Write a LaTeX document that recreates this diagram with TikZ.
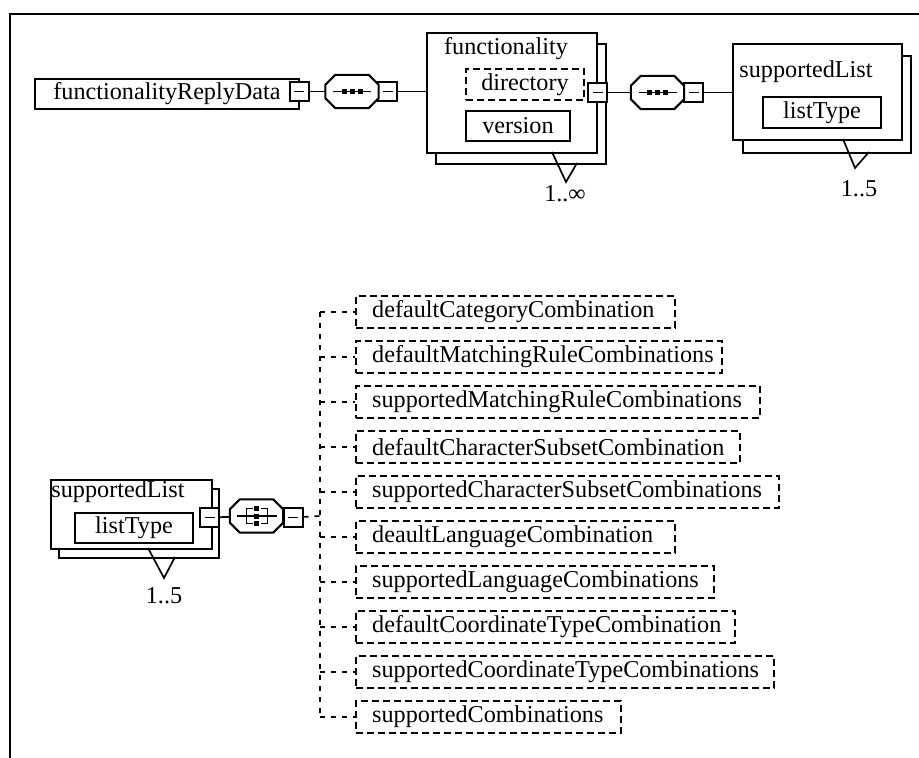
\documentclass[tikz,border=0pt]{standalone}
\usepackage{fontspec}
\setmainfont{Liberation Serif}
\newcommand\mrule{\rule{10pt}{1.8pt}}

\begin{document}
\begin{tikzpicture}[x=1pt,y=-1pt,
  every node/.style={font=\fontsize{24.2}{29}\selectfont},
  elbox/.style={draw,line width=2,fill=white,inner sep=0,anchor=north west},
  optbox/.style={elbox,dash pattern=on 7pt off 4pt},
  minusbox/.style={draw,line width=2,fill=white,inner sep=0,minimum size=19},
  grp/.style={minimum width=53,minimum height=33,inner sep=0},
  conn/.style={line width=1.7},
  dconn/.style={line width=1.7,dash pattern=on 5pt off 6pt}]
  \useasboundingbox (0,0) rectangle (919,758);
  \draw[line width=2.2] (10,758) -- (10,14) -- (919,14);

  \node[elbox,minimum width=264,minimum height=30] (frd) at (34,78) {functionalityReplyData};
  \node[minusbox] (frdm) at (299,91.5) {\mrule};
  \node[grp] (seqa) at (352,91.5) {};
  \node[minusbox] (seqam) at (387.5,91.5) {\mrule};

  \node[elbox,minimum width=170,minimum height=120] (funcs) at (435,43) {};
  \node[elbox,minimum width=170,minimum height=120] (func) at (426,32) {};
  \node (funcl) at (506,49) {functionality};
  \node[optbox,anchor=center,minimum width=118,minimum height=31] (dir) at (525,84.5) {directory};
  \node[elbox,anchor=center,minimum width=104,minimum height=30] (ver) at (518,126) {version};
  \node[minusbox] (funcm) at (597.5,92.5) {\mrule};
  \node[grp] (seqb) at (657.5,92.5) {};
  \node[minusbox] (seqbm) at (693.5,92.5) {\mrule};
  \draw[conn] (552,152) -- (566,182) -- (577,163);
  \node (funcn) at (565,194) {1..∞};

  \node[elbox,minimum width=168,minimum height=97] (sls) at (742,55) {};
  \node[elbox,minimum width=169,minimum height=96] (sl) at (732,43) {};
  \node (sll) at (806,72) {supportedList};
  \node[elbox,anchor=center,minimum width=118,minimum height=31] (slt) at (822,112.5) {listType};
  \draw[conn] (843,139) -- (855,168) -- (869,152);
  \node (sln) at (859,189) {1..5};

  \node[elbox,minimum width=160,minimum height=69] (bls) at (58,488) {};
  \node[elbox,minimum width=161,minimum height=69] (bl) at (50,479) {};
  \node (bll) at (118,492) {supportedList};
  \node[elbox,anchor=center,minimum width=118,minimum height=30] (blt) at (134,528) {listType};
  \node[minusbox] (blm) at (209.5,517.5) {\mrule};
  \draw[conn] (148,548) -- (164,578) -- (175,557);
  \node (bln) at (164,596) {1..5};
  \node[grp] (cho) at (256.5,516) {};
  \node[minusbox] (chom) at (293,517.5) {\mrule};

  \foreach \g in {seqa,seqb,cho}
    \draw[line width=2,fill=white] ([xshift=10]\g.north west) -- ([xshift=-10]\g.north east)
      -- ([yshift=-10]\g.north east) -- ([yshift=10]\g.south east) -- ([xshift=-10]\g.south east)
      -- ([xshift=10]\g.south west) -- ([yshift=10]\g.south west) -- ([yshift=-10]\g.north west) -- cycle;

  \draw[conn] (frdm) -- (seqa);
  \draw[conn] (seqam.east) -- (seqam.east -| func.west);
  \draw[conn] (funcm) -- (seqb);
  \draw[conn] (seqbm.east) -- (seqbm.east -| sl.west);
  \draw[conn] (blm) -- (cho);
  \foreach \g in {seqa,seqb} {
    \draw[conn] ([xshift=-19]\g.center) -- ([xshift=19]\g.center);
    \foreach \d in {-8,0,8} \fill ([xshift=\d]\g.center) +(-2.5,-2.5) rectangle +(2.5,2.5);
  }
  \draw[conn] ([xshift=-20]cho.center) -- ([xshift=20]cho.center);
  \draw[conn] ([xshift=-4,yshift=7.5]cho.center) -| ([xshift=-10,yshift=-7.5]cho.center) -- ([xshift=-4,yshift=-7.5]cho.center);
  \draw[conn] ([xshift=4,yshift=7.5]cho.center) -| ([xshift=11,yshift=-7.5]cho.center) -- ([xshift=4,yshift=-7.5]cho.center);
  \foreach \d in {-7.5,0,7.5} \fill ([yshift=\d]cho.center) +(-2.5,-2.5) rectangle +(2.5,2.5);

  \coordinate (trunk) at (320,516);
  \draw[dconn] (chom) -- (trunk);
  \foreach \name/\w [count=\i from 0] in {defaultCategoryCombination/319,defaultMatchingRuleCombinations/366,supportedMatchingRuleCombinations/404,defaultCharacterSubsetCombination/384,supportedCharacterSubsetCombinations/423,deaultLanguageCombination/319,supportedLanguageCombinations/358,defaultCoordinateTypeCombination/379,supportedCoordinateTypeCombinations/418,supportedCombinations/265} {
    \node[optbox,anchor=west,minimum width=\w,minimum height=32] (c\i) at (355,312+45*\i) {};
    \node[anchor=west,inner sep=0] (t\i) at ([xshift=17]c\i.west) {\name};
    \draw[dconn] (trunk |- c\i.west) -- (c\i);
  }
  \draw[dconn] (trunk |- c0.west) -- (trunk |- c9.west);
\end{tikzpicture}
\end{document}
